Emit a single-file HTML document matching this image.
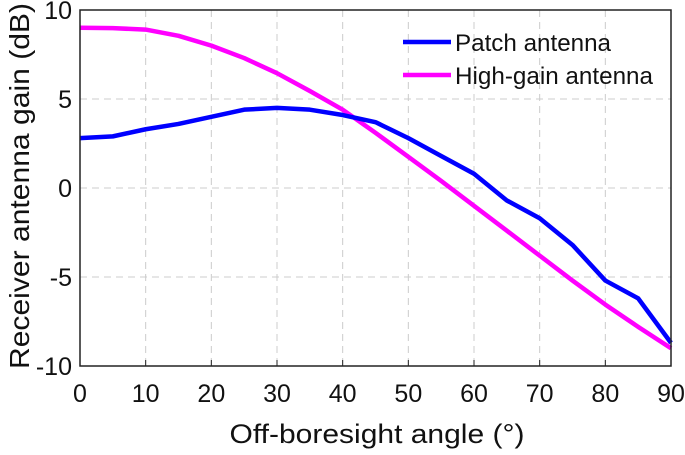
<!DOCTYPE html>
<html><head><meta charset="utf-8"><style>
body{margin:0;background:#fff;}
svg text{font-family:"Liberation Sans",sans-serif;fill:#111;}
</style></head><body>
<svg width="685" height="450" xmlns="http://www.w3.org/2000/svg">
<g id="grid"></g>
<g id="series"></g>
<rect x="80" y="10" width="591" height="356" fill="none" stroke="#222" stroke-width="1.5"/>
<g id="ticks"></g>
<text x="377" y="443" font-size="27" text-anchor="middle" textLength="295" lengthAdjust="spacingAndGlyphs">Off-boresight angle (°)</text>
<text transform="translate(29,186) rotate(-90)" font-size="28" text-anchor="middle" textLength="366" lengthAdjust="spacingAndGlyphs">Receiver antenna gain (dB)</text>
<g>
<line x1="403" y1="42" x2="451" y2="42" stroke="#0000ff" stroke-width="4.5"/>
<text x="455" y="51" font-size="24" textLength="156" lengthAdjust="spacingAndGlyphs">Patch antenna</text>
<line x1="403" y1="75" x2="451" y2="75" stroke="#ff00ff" stroke-width="4.5"/>
<text x="455" y="84" font-size="24" textLength="198" lengthAdjust="spacingAndGlyphs">High-gain antenna</text>
</g>
</svg>
<script>
const angles=[0,5,10,15,20,25,30,35,40,45,50,55,60,65,70,75,80,85,90];
const patchGain=[2.8,2.9,3.3,3.6,4.0,4.4,4.5,4.4,4.1,3.7,2.8,1.8,0.8,-0.7,-1.7,-3.2,-5.2,-6.2,-8.7];
const highGain=[9.0,8.98,8.9,8.55,8.0,7.3,6.45,5.45,4.4,3.1,1.75,0.4,-1.0,-2.4,-3.8,-5.2,-6.55,-7.8,-9.0];
const xTicks=[0,10,20,30,40,50,60,70,80,90];
const yTicks=[-10,-5,0,5,10];
const NS="http://www.w3.org/2000/svg";
const X=v=>80+v/90*591, Y=v=>188-v/10*178;
function mk(t,a,p){const e=document.createElementNS(NS,t);for(const k in a)e.setAttribute(k,a[k]);p.appendChild(e);return e;}
const g=document.getElementById('grid'),tk=document.getElementById('ticks'),s=document.getElementById('series');
xTicks.forEach(v=>{
 if(v>0&&v<90){const l=mk('line',{x1:X(v),x2:X(v),y1:10,y2:366,stroke:'#ccc','stroke-dasharray':'7,5'},g);
 
 }
 const m=mk('line',{x1:X(v),x2:X(v),y1:366,y2:360,stroke:'#222'},tk);
 
 
 const t=mk('text',{x:X(v),y:402,'font-size':25,'text-anchor':'middle'},tk);t.textContent=v;
 
 
});
yTicks.forEach(v=>{
 if(v>-10&&v<10){const l=mk('line',{x1:80,x2:671,y1:Y(v),y2:Y(v),stroke:'#ccc','stroke-dasharray':'7,5'},g);
 
 }
 const t=mk('text',{x:72,y:Y(v)+9,'font-size':25,'text-anchor':'end'},tk);t.textContent=v;
 
 
});
function line(vals,col,name){
 const p=mk('polyline',{points:vals.map((v,i)=>X(angles[i])+','+Y(v)).join(' '),fill:'none',stroke:col,'stroke-width':4.5,'stroke-linejoin':'round'},s);
 
 
}
line(highGain,'#ff00ff','highgain-line');
line(patchGain,'#0000ff','patch-line');
</script>
</body></html>
